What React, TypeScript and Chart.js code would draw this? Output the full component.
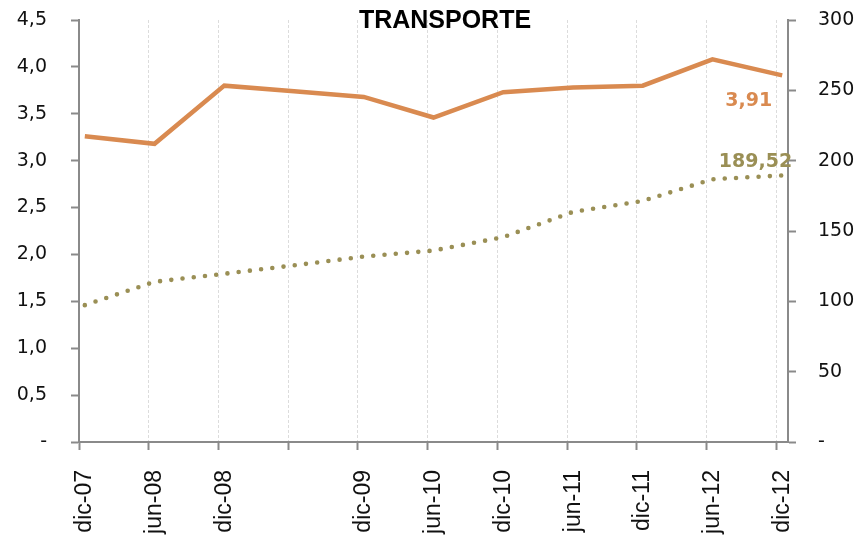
import React, { useEffect, useRef } from 'react';
import { Chart, registerables } from 'chart.js';

Chart.register(...registerables);

const titleText = 'TRANSPORTE';
const tickLabels = ['dic-07', 'jun-08', 'dic-08', '', 'dic-09', 'jun-10', 'dic-10', 'jun-11', 'dic-11', 'jun-12', 'dic-12'];
// months elapsed since dic-07 for each axis tick
const tickMonths = [0, 6, 12, 18, 24, 30, 36, 42, 48, 54, 60];
// observations are mid-month
const obsMonths = [0.5, 6.5, 12.5, 18.5, 24.5, 30.5, 36.5, 42.5, 48.5, 54.5, 60.5];
const axisEndMonth = 61;
const transporte = [3.26, 3.18, 3.8, 3.74, 3.68, 3.46, 3.73, 3.78, 3.8, 4.08, 3.91];
const indice = [97.3, 113.9, 119.6, 125.6, 131.8, 136.1, 145.6, 163.6, 171.4, 186.8, 189.52];
const leftLabel = '3,91';
const rightLabel = '189,52';

const ORANGE = '#D98A50';
const OLIVE = '#9A8F55';
const AXIS = '#8a8a8a';

export default function App() {
  const ref = useRef<HTMLCanvasElement | null>(null);

  useEffect(() => {
    if (!ref.current) return;

    const annot = {
      id: 'annot',
      afterDatasetsDraw(chart: any) {
        const ctx = chart.ctx;
        ctx.save();
        ctx.font = 'bold 25px "Liberation Sans"';
        ctx.fillStyle = '#000';
        ctx.textAlign = 'center';
        ctx.textBaseline = 'middle';
        ctx.fillText(titleText, chart.width / 2 + 14, 21);

        const m0 = chart.getDatasetMeta(0).data;
        const p0 = m0[m0.length - 1];
        ctx.font = 'bold 19px "DejaVu Sans"';
        ctx.textAlign = 'right';
        ctx.fillStyle = ORANGE;
        ctx.fillText(leftLabel, p0.x - 10, p0.y + 26);

        const m1 = chart.getDatasetMeta(1).data;
        const p1 = m1[m1.length - 1];
        ctx.fillStyle = OLIVE;
        ctx.fillText(rightLabel, p1.x + 10, p1.y - 13);
        ctx.restore();
      },
    };

    const fixV = (w: number) => (scale: any) => {
      scale.width = w;
      scale.paddingTop = 0;
      scale.paddingBottom = 0;
    };

    const chart = new Chart(ref.current, {
      type: 'line',
      data: {
        datasets: [
          {
            label: 'Transporte',
            data: obsMonths.map((m, i) => ({ x: m, y: transporte[i] })),
            borderColor: ORANGE,
            borderWidth: 4.5,
            pointRadius: 0,
            tension: 0,
            yAxisID: 'y',
            borderJoinStyle: 'miter',
          },
          {
            label: 'Índice',
            data: obsMonths.map((m, i) => ({ x: m, y: indice[i] })),
            borderColor: OLIVE,
            borderWidth: 4.6,
            borderDash: [0, 11.3],
            borderCapStyle: 'round',
            pointRadius: 0,
            tension: 0,
            yAxisID: 'y1',
          },
        ],
      },
      options: {
        animation: false,
        responsive: false,
        layout: { autoPadding: false, padding: { top: 20, left: 0, right: 0, bottom: 0 } },
        plugins: {
          legend: { display: false },
          title: { display: false },
          tooltip: { enabled: false },
        },
        scales: {
          x: {
            type: 'linear',
            min: 0,
            max: axisEndMonth,
            afterBuildTicks: (scale: any) => {
              scale.ticks = tickMonths.map((v) => ({ value: v }));
            },
            afterFit: (scale: any) => {
              scale.height = 94;
              scale.paddingLeft = 0;
              scale.paddingRight = 0;
            },
            ticks: {
              autoSkip: false,
              minRotation: 90,
              maxRotation: 90,
              padding: 20,
              labelOffset: 6,
              color: '#111',
              font: { family: '"Liberation Sans"', size: 23 },
              callback: (v: any) => {
                const i = tickMonths.indexOf(Number(v));
                return i >= 0 ? tickLabels[i] : '';
              },
            },
            grid: {
              color: '#dcdcdc',
              lineWidth: 1,
              drawTicks: true,
              tickLength: 8,
              tickColor: AXIS,
              tickWidth: 2,
            },
            border: { display: true, color: AXIS, width: 2, dash: [3, 2] },
          },
          y: {
            type: 'linear',
            position: 'left',
            min: 0,
            max: 4.5,
            afterFit: fixV(79),
            ticks: {
              stepSize: 0.5,
              padding: 24,
              color: '#111',
              font: { family: '"DejaVu Sans"', size: 19 },
              callback: (v: any) => (Number(v) === 0 ? '-' : Number(v).toFixed(1).replace('.', ',')),
            },
            grid: {
              drawOnChartArea: false,
              drawTicks: true,
              tickLength: 8,
              tickColor: AXIS,
              tickWidth: 2,
            },
            border: { display: true, color: AXIS, width: 2 },
          },
          y1: {
            type: 'linear',
            position: 'right',
            min: 0,
            max: 300,
            afterFit: fixV(74),
            ticks: {
              stepSize: 50,
              padding: 22,
              color: '#111',
              font: { family: '"DejaVu Sans"', size: 19 },
              callback: (v: any) => (Number(v) === 0 ? '-' : String(v)),
            },
            grid: {
              drawOnChartArea: false,
              drawTicks: true,
              tickLength: 8,
              tickColor: AXIS,
              tickWidth: 2,
            },
            border: { display: true, color: AXIS, width: 2 },
          },
        },
      },
      plugins: [annot],
    } as any);

    return () => chart.destroy();
  }, []);

  return (
    <div style={{ position: 'absolute', left: 0, top: 0, width: 862, height: 536, background: '#fff' }}>
      <canvas ref={ref} width={862} height={536} />
    </div>
  );
}
